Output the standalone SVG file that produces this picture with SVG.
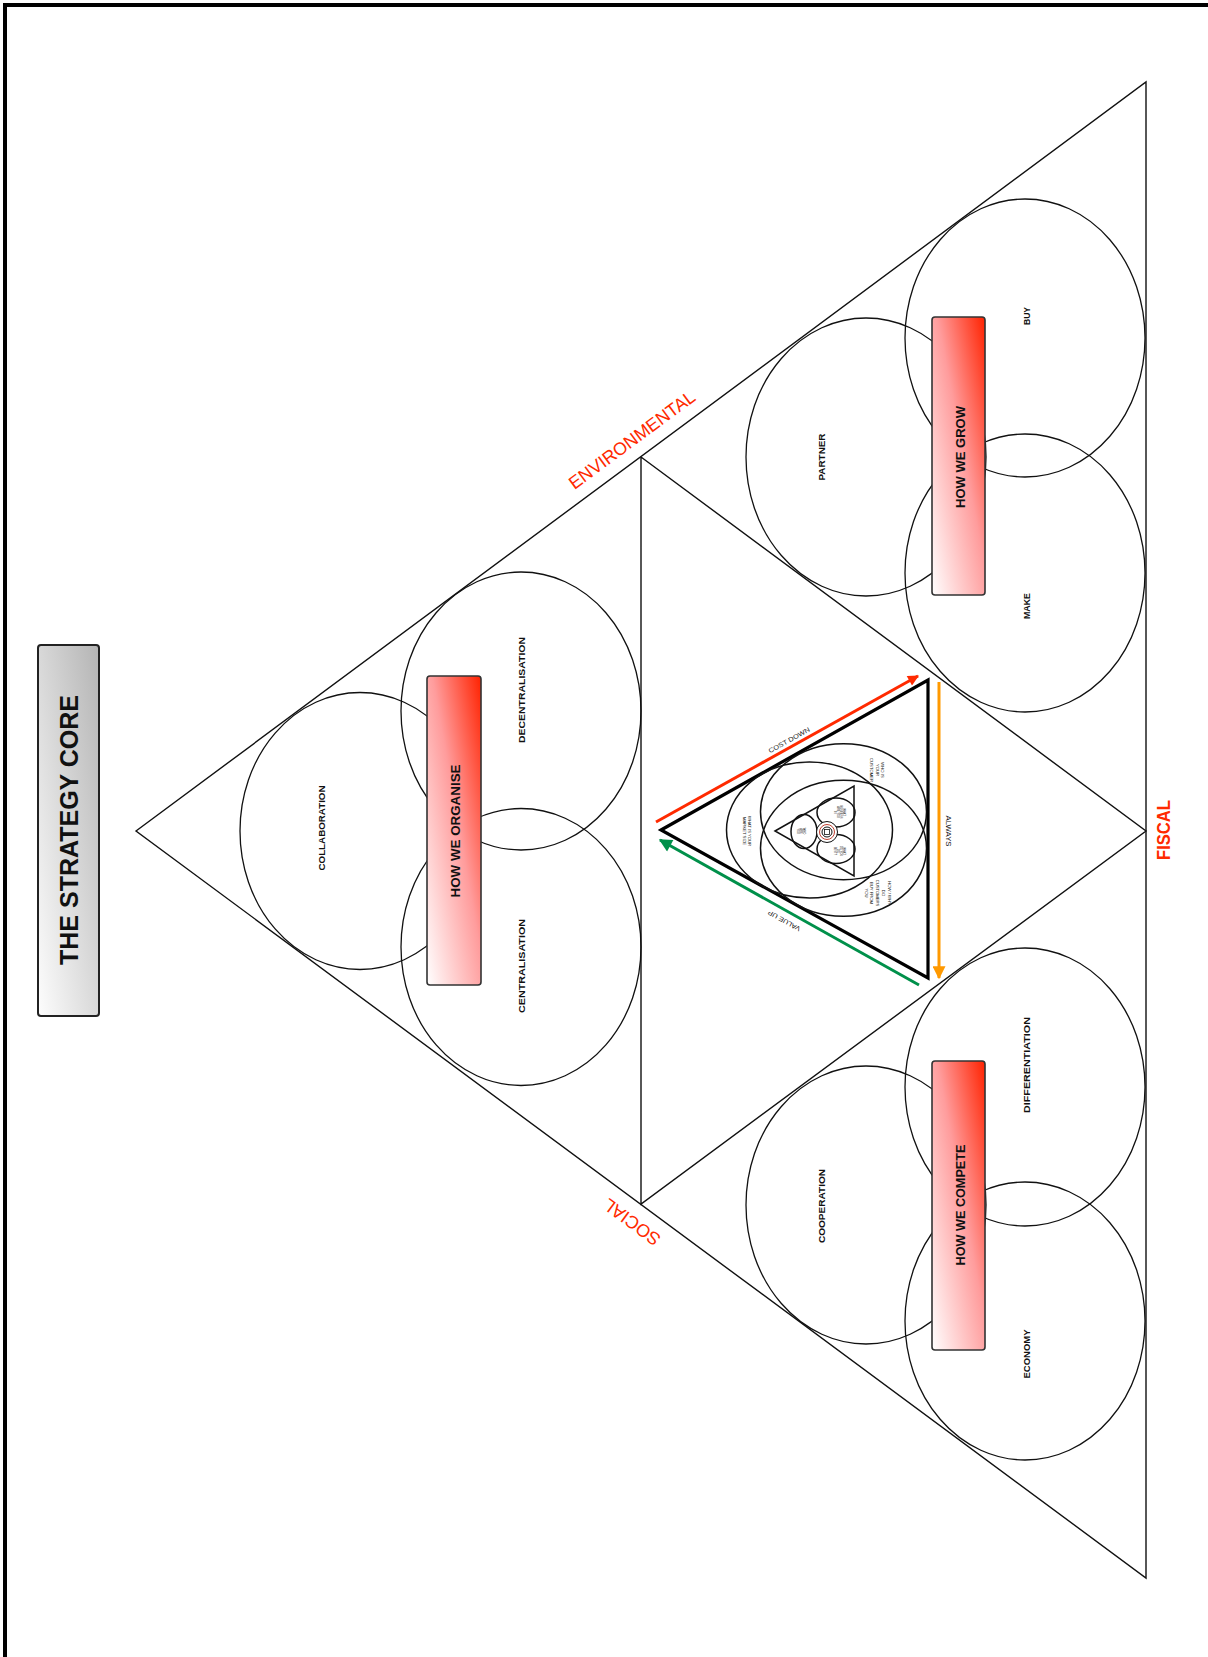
<svg xmlns="http://www.w3.org/2000/svg" width="1208" height="1657" viewBox="0 0 1208 1657">
<defs>
<linearGradient id="redGrad" x1="1" y1="0" x2="0" y2="1">
<stop offset="0" stop-color="#ff2200"/>
<stop offset="0.45" stop-color="#ff9c9c"/>
<stop offset="1" stop-color="#ffffff"/>
</linearGradient>
<linearGradient id="greyGrad" x1="1" y1="0" x2="0" y2="1">
<stop offset="0" stop-color="#b4b4b4"/>
<stop offset="1" stop-color="#fdfdfd"/>
</linearGradient>
<marker id="arRed" viewBox="0 0 10 10" refX="9" refY="5" markerWidth="14" markerHeight="11" markerUnits="userSpaceOnUse" orient="auto"><path d="M0,0 L10,5 L0,10 z" fill="#ff2a00"/></marker>
<marker id="arGreen" viewBox="0 0 10 10" refX="9" refY="5" markerWidth="16" markerHeight="13" markerUnits="userSpaceOnUse" orient="auto"><path d="M0,0 L10,5 L0,10 z" fill="#00904a"/></marker>
<marker id="arOrange" viewBox="0 0 10 10" refX="9" refY="5" markerWidth="16" markerHeight="13" markerUnits="userSpaceOnUse" orient="auto"><path d="M0,0 L10,5 L0,10 z" fill="#ff9900"/></marker>
<style>
.ln{fill:none;stroke:#111;stroke-width:1.4}
.cir{fill:none;stroke:#111;stroke-width:1.3}
.icir{fill:none;stroke:#111;stroke-width:1.5}
.hbox{fill:url(#redGrad);stroke:#333;stroke-width:1.6}
.lbl{font-family:"Liberation Sans",Arial,sans-serif;font-weight:bold;font-size:9.5px;fill:#111;text-anchor:middle;dominant-baseline:central}
.hlbl{font-family:"Liberation Sans",Arial,sans-serif;font-weight:bold;font-size:13.5px;fill:#111;text-anchor:middle;dominant-baseline:central}
.red{font-family:"Liberation Sans",Arial,sans-serif;font-size:18px;fill:#ff2a00;text-anchor:middle;dominant-baseline:central}
.sm{font-family:"Liberation Sans",Arial,sans-serif;font-size:6.5px;fill:#111;text-anchor:middle;dominant-baseline:central}
.tiny{font-family:"Liberation Sans",Arial,sans-serif;font-size:4.2px;fill:#111;text-anchor:middle}
.micro{font-family:"Liberation Sans",Arial,sans-serif;font-size:2.6px;fill:#111;text-anchor:middle}
</style>
</defs>
<rect x="0" y="0" width="1208" height="1657" fill="#ffffff"/>
<rect id="frame" x="5" y="5" width="1300" height="1800" fill="none" stroke="#000" stroke-width="4"/>

<g id="title">
<rect x="38" y="645" width="61" height="371" rx="3" fill="url(#greyGrad)" stroke="#222" stroke-width="2"/>
<text transform="translate(69,830) rotate(-90)" font-family="'Liberation Sans',Arial,sans-serif" font-weight="bold" font-size="25" fill="#111" text-anchor="middle" dominant-baseline="central" textLength="270" lengthAdjust="spacingAndGlyphs">THE STRATEGY CORE</text>
</g>

<g id="triangles">
<polygon class="ln" points="136,831 1146,82 1146,1578"/>
<polyline class="ln" points="641,457 641,1204 1146,831 641,457"/>
</g>

<g id="labels-outer">
<text class="red" transform="translate(632,440) rotate(-36.56)" textLength="152" lengthAdjust="spacingAndGlyphs">ENVIRONMENTAL</text>
<text class="red" transform="translate(632,1222) rotate(-143.44)" textLength="66" lengthAdjust="spacingAndGlyphs">SOCIAL</text>
<text class="red" font-weight="bold" transform="translate(1164,830) rotate(-90)" textLength="60" lengthAdjust="spacingAndGlyphs">FISCAL</text>
</g>

<g id="organise">
<ellipse class="cir" cx="360" cy="831" rx="120" ry="138.5"/>
<ellipse class="cir" cx="521" cy="711" rx="120" ry="139"/>
<ellipse class="cir" cx="521" cy="947" rx="120" ry="138.5"/>
<rect class="hbox" x="427" y="676" width="54" height="309" rx="3"/>
<text class="lbl" transform="translate(321,828) rotate(-90)" textLength="85" lengthAdjust="spacingAndGlyphs">COLLABORATION</text>
<text class="lbl" transform="translate(521,690) rotate(-90)" textLength="106" lengthAdjust="spacingAndGlyphs">DECENTRALISATION</text>
<text class="lbl" transform="translate(521,966) rotate(-90)" textLength="94" lengthAdjust="spacingAndGlyphs">CENTRALISATION</text>
<text class="hlbl" transform="translate(455,831) rotate(-90)" textLength="133" lengthAdjust="spacingAndGlyphs">HOW WE ORGANISE</text>
</g>

<g id="grow">
<ellipse class="cir" cx="866" cy="457" rx="120" ry="139"/>
<ellipse class="cir" cx="1025" cy="338" rx="120" ry="139"/>
<ellipse class="cir" cx="1025" cy="573" rx="120" ry="139"/>
<rect class="hbox" x="932" y="317" width="53" height="278" rx="3"/>
<text class="lbl" transform="translate(821,457) rotate(-90)" textLength="47" lengthAdjust="spacingAndGlyphs">PARTNER</text>
<text class="lbl" transform="translate(1026,316) rotate(-90)" textLength="18" lengthAdjust="spacingAndGlyphs">BUY</text>
<text class="lbl" transform="translate(1026,606) rotate(-90)" textLength="26" lengthAdjust="spacingAndGlyphs">MAKE</text>
<text class="hlbl" transform="translate(960,457) rotate(-90)" textLength="102" lengthAdjust="spacingAndGlyphs">HOW WE GROW</text>
</g>

<g id="compete">
<ellipse class="cir" cx="866" cy="1205" rx="120" ry="139"/>
<ellipse class="cir" cx="1025" cy="1087" rx="120" ry="139"/>
<ellipse class="cir" cx="1025" cy="1321" rx="120" ry="139"/>
<rect class="hbox" x="932" y="1061" width="53" height="289" rx="3"/>
<text class="lbl" transform="translate(821,1206) rotate(-90)" textLength="74" lengthAdjust="spacingAndGlyphs">COOPERATION</text>
<text class="lbl" transform="translate(1026,1065) rotate(-90)" textLength="96" lengthAdjust="spacingAndGlyphs">DIFFERENTIATION</text>
<text class="lbl" transform="translate(1026,1354) rotate(-90)" textLength="49" lengthAdjust="spacingAndGlyphs">ECONOMY</text>
<text class="hlbl" transform="translate(960,1205) rotate(-90)" textLength="121" lengthAdjust="spacingAndGlyphs">HOW WE COMPETE</text>
</g>

<g id="core">
<polygon points="661,830 928,680 928,978" fill="none" stroke="#000" stroke-width="3.2" stroke-linejoin="miter"/>
<ellipse class="icir" cx="809.5" cy="830" rx="83" ry="68"/>
<ellipse class="icir" cx="843.5" cy="811.7" rx="83" ry="68"/>
<ellipse class="icir" cx="843.5" cy="848.3" rx="83" ry="68"/>
<polygon points="775,831 854,786 854,876" fill="none" stroke="#111" stroke-width="1.5"/>
<ellipse class="icir" cx="836" cy="812.5" rx="19" ry="14.5"/>
<ellipse class="icir" cx="836" cy="849" rx="19" ry="14.5"/>
<ellipse class="icir" cx="804" cy="831.5" rx="13" ry="17"/>
<circle cx="827" cy="832" r="10.5" fill="#fff" stroke="#111" stroke-width="1"/>
<circle cx="827" cy="832" r="7.5" fill="none" stroke="#c04030" stroke-width="1"/>
<circle cx="827" cy="832" r="5" fill="none" stroke="#111" stroke-width="1"/>
<rect x="824.5" y="829.5" width="5" height="5" fill="none" stroke="#111" stroke-width="0.8"/>
<text class="tiny" transform="translate(747,831) rotate(90)"><tspan x="0" y="-1">WHAT IS YOUR</tspan><tspan x="0" y="4.5">MARKET SIZE</tspan></text>
<text class="tiny" transform="translate(877,770) rotate(90)"><tspan x="0" y="-4">WHO IS</tspan><tspan x="0" y="1.5">YOUR</tspan><tspan x="0" y="7">CUSTOMER</tspan></text>
<text class="tiny" transform="translate(878,893) rotate(90)"><tspan x="0" y="-9.5">HOW / WHY</tspan><tspan x="0" y="-3.8">DO</tspan><tspan x="0" y="1.9">CUSTOMERS</tspan><tspan x="0" y="7.6">BUY FROM</tspan><tspan x="0" y="13.3">YOU</tspan></text>
<text class="micro" transform="translate(801,831) rotate(90)"><tspan x="0" y="-2">WHO</tspan><tspan x="0" y="1">ARE</tspan><tspan x="0" y="4">YOU</tspan></text>
<text class="micro" transform="translate(839,812) rotate(90)"><tspan x="0" y="-3.5">WHAT</tspan><tspan x="0" y="-0.5">BUSINESS</tspan><tspan x="0" y="2.5">ARE YOU</tspan><tspan x="0" y="5.5">IN</tspan></text>
<text class="micro" transform="translate(839,851) rotate(90)"><tspan x="0" y="-3.5">WHAT</tspan><tspan x="0" y="-0.5">DO YOU</tspan><tspan x="0" y="2.5">DO</tspan><tspan x="0" y="5.5">BEST?</tspan></text>
</g>

<g id="connectors">
<line x1="656" y1="822" x2="918" y2="676" stroke="#ff2a00" stroke-width="3" marker-end="url(#arRed)"/>
<line x1="919" y1="985" x2="660" y2="840" stroke="#00904a" stroke-width="3" marker-end="url(#arGreen)"/>
<line x1="939" y1="682" x2="939" y2="978" stroke="#ff9900" stroke-width="3" marker-end="url(#arOrange)"/>
<text class="sm" transform="translate(789,740) rotate(-29.1)" textLength="46" lengthAdjust="spacingAndGlyphs">COST DOWN</text>
<text class="sm" transform="translate(784,921) rotate(-150.8)" textLength="36" lengthAdjust="spacingAndGlyphs">VALUE UP</text>
<text class="sm" transform="translate(948,831) rotate(90)" textLength="31" lengthAdjust="spacingAndGlyphs">ALWAYS</text>
</g>
</svg>
